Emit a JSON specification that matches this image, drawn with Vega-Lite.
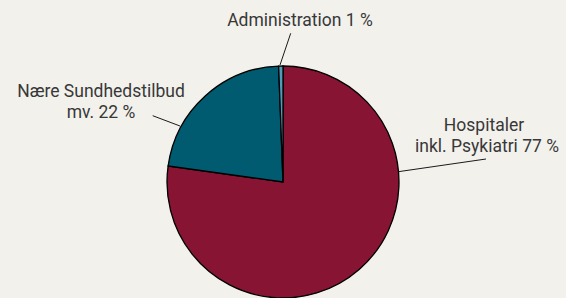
{
  "$schema": "https://vega.github.io/schema/vega-lite/v6.json",
  "width": 566,
  "height": 298,
  "autosize": {"type": "none"},
  "padding": 0,
  "background": "#f2f1ec",
  "config": {"view": {"stroke": null}},
  "datasets": {
    "slices": [
      {"del": "Hospitaler inkl. Psykiatri", "pct": 77.2, "o": 1},
      {"del": "Nære Sundhedstilbud mv.", "pct": 22.2, "o": 2},
      {"del": "Administration", "pct": 0.6, "o": 3}
    ],
    "labels": [
      {"tekst": "Administration 1 %", "lx": 17, "ly": 156},
      {"tekst": "Nære Sundhedstilbud", "lx": -182, "ly": 85},
      {"tekst": "mv. 22 %", "lx": -182, "ly": 64},
      {"tekst": "Hospitaler", "lx": 201, "ly": 51},
      {"tekst": "inkl. Psykiatri 77 %", "lx": 204, "ly": 30}
    ],
    "leaders": [
      {"x1": 7.7, "y1": 148.7, "x2": -3, "y2": 117},
      {"x1": -130.3, "y1": 66.3, "x2": -103, "y2": 56},
      {"x1": 115.3, "y1": 10.3, "x2": 203, "y2": 23}
    ]
  },
  "layer": [
    {
      "data": {"name": "slices"},
      "mark": {"type": "arc", "outerRadius": 116, "stroke": "#000000", "strokeWidth": 1.3},
      "encoding": {
        "x": {"datum": 0, "type": "quantitative", "scale": {"domain": [-283, 283]}, "axis": null},
        "y": {"datum": 0, "type": "quantitative", "scale": {"domain": [-116, 182]}, "axis": null},
        "theta": {"field": "pct", "type": "quantitative", "stack": true},
        "order": {"field": "o", "type": "quantitative"},
        "color": {
          "field": "del",
          "type": "nominal",
          "scale": {
            "domain": ["Hospitaler inkl. Psykiatri", "Nære Sundhedstilbud mv.", "Administration"],
            "range": ["#861432", "#005a70", "#4f9cbb"]
          },
          "legend": null
        }
      }
    },
    {
      "data": {"name": "leaders"},
      "mark": {"type": "rule", "color": "#1a1a1a", "strokeWidth": 1},
      "encoding": {
        "x": {"field": "x1", "type": "quantitative", "scale": {"domain": [-283, 283]}, "axis": null},
        "y": {"field": "y1", "type": "quantitative", "scale": {"domain": [-116, 182]}, "axis": null},
        "x2": {"field": "x2"},
        "y2": {"field": "y2"}
      }
    },
    {
      "data": {"name": "labels"},
      "mark": {"type": "text", "font": "Roboto", "fontSize": 17.5, "color": "#383838", "align": "center", "baseline": "alphabetic"},
      "encoding": {
        "x": {"field": "lx", "type": "quantitative", "scale": {"domain": [-283, 283]}, "axis": null},
        "y": {"field": "ly", "type": "quantitative", "scale": {"domain": [-116, 182]}, "axis": null},
        "text": {"field": "tekst"}
      }
    }
  ]
}
